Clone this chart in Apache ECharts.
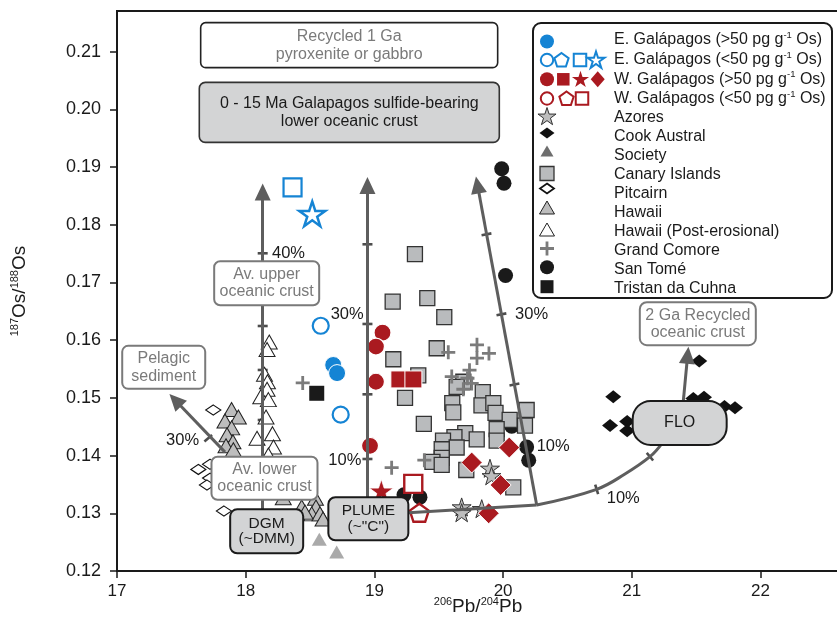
<!DOCTYPE html>
<html>
<head>
<meta charset="utf-8">
<script src="https://cdn.jsdelivr.net/npm/echarts@6/dist/echarts.min.js"></script>
<style>
  html, body { margin: 0; padding: 0; background: #ffffff; }
  #chart { width: 837px; height: 638px; }
</style>
</head>
<body>
<div id="chart"></div>
<script>
// ---------------- Data: [206Pb/204Pb, 187Os/188Os] ----------------
const xTicks = [17, 18, 19, 20, 21, 22];
const yTicks = [0.12, 0.13, 0.14, 0.15, 0.16, 0.17, 0.18, 0.19, 0.20, 0.21];

// Galápagos
const eGalHiCircle = [[18.68, 0.1557], [18.71, 0.1543]];
const eGalLoCircle = [[18.583, 0.1625], [18.738, 0.1471]];
const eGalLoSquare = [[18.364, 0.1865]];
const eGalLoStar = [[18.517, 0.1819]];
const wGalHiCircle = [[19.063, 0.1613], [19.012, 0.1589], [19.012, 0.1528], [18.966, 0.1417]];
const wGalHiSquare = [[19.194, 0.1532], [19.303, 0.1532]];
const wGalHiStar = [[19.054, 0.1339]];
const wGalHiDiamond = [[19.756, 0.1388], [20.048, 0.1414], [19.981, 0.1349], [19.888, 0.1300]];
const wGalLoSquare = [[19.302, 0.1351]];
const wGalLoPentagon = [[19.349, 0.1301]];

// Other ocean island basalts
const azores = [[19.898, 0.1378], [19.910, 0.1365], [19.678, 0.1311], [19.678, 0.1301], [19.834, 0.1308]];
const cookAustral = [[20.856, 0.1502], [20.831, 0.1452], [20.964, 0.1459], [20.964, 0.1443],
  [21.524, 0.1564], [21.478, 0.1499], [21.561, 0.1501], [21.720, 0.1485], [21.802, 0.1483]];
const society = [[18.572, 0.1255], [18.707, 0.1233]];
const canary = [[19.315, 0.1749], [19.142, 0.1667], [19.411, 0.1673], [19.543, 0.1640], [19.484, 0.1586],
  [19.147, 0.1567], [19.341, 0.1539], [19.238, 0.1500], [19.691, 0.1528], [19.639, 0.1519],
  [19.605, 0.1491], [19.613, 0.1475], [19.842, 0.1510], [19.832, 0.1487], [19.924, 0.1491],
  [19.941, 0.1474], [20.051, 0.1462], [20.183, 0.1479], [20.170, 0.1452], [19.950, 0.1446],
  [19.384, 0.1455], [19.706, 0.1439], [19.795, 0.1428], [19.622, 0.1432], [19.533, 0.1426],
  [19.639, 0.1414], [19.523, 0.1411], [19.523, 0.1396], [19.451, 0.1389], [19.523, 0.1384],
  [19.714, 0.1375], [20.079, 0.1345], [19.950, 0.1426]];
const pitcairn = [[17.748, 0.1479], [17.632, 0.1376], [17.723, 0.1385], [17.723, 0.1361], [17.699, 0.1349], [17.831, 0.1304]];
const hawaii = [[17.890, 0.1480], [17.943, 0.1467], [17.839, 0.1460], [17.891, 0.1448], [17.855, 0.1436],
  [17.901, 0.1424], [17.847, 0.1417], [17.904, 0.1410], [18.292, 0.1327], [18.435, 0.1311],
  [18.542, 0.1326], [18.546, 0.1311], [18.513, 0.1299], [18.577, 0.1299], [18.601, 0.1290], [18.461, 0.1302]];
const hawaiiPostErosional = [[18.183, 0.1597], [18.166, 0.1584], [18.146, 0.1541], [18.169, 0.1528],
  [18.166, 0.1515], [18.117, 0.1502], [18.176, 0.1497], [18.158, 0.1467], [18.088, 0.1430],
  [18.208, 0.1438], [18.216, 0.1415], [18.176, 0.1401]];
const grandComore = [[18.443, 0.1526], [19.134, 0.1379], [19.388, 0.1392], [19.574, 0.1579], [19.797, 0.1592],
  [19.890, 0.1577], [19.797, 0.1569], [19.739, 0.1548], [19.601, 0.1537], [19.723, 0.1534],
  [19.756, 0.1525], [19.691, 0.1515]];
const sanTome = [[19.989, 0.1897], [20.007, 0.1872], [20.019, 0.1712], [20.183, 0.1415], [20.199, 0.1392],
  [20.067, 0.1451], [19.230, 0.1332], [19.354, 0.1328]];
const tristan = [[18.552, 0.1508]];

// Mixing model paths (end point = arrowhead centre)
const upperCrustPath = [[18.132, 0.1280], [18.132, 0.1857]];
const plumePath = [[18.946, 0.1280], [18.946, 0.1868]];
const recycledPath = [[20.261, 0.13144], [19.801, 0.1869]];
const pelagicPath = [[17.839, 0.1406], [17.453, 0.1496]];
const twoGaPath = [[21.390, 0.1470], [21.434, 0.1574]];
const plumeBase = [[19.199, 0.1300], [20.261, 0.13144]];
const floCurve = [[20.261, 0.13144], [20.727, 0.13416], [20.947, 0.13681], [21.141, 0.13981], [21.235, 0.14213]];

// Mixing increments [x, y, tick rotation in degrees]
const mixTicks = [
  [18.132, 0.17506, 0], [18.132, 0.16246, 0], [18.132, 0.15484, 0], [18.132, 0.14617, 0],
  [18.946, 0.17662, 0], [18.946, 0.16281, 0], [18.946, 0.15062, 0], [18.946, 0.13941, 0],
  [19.871, 0.17835, 10.5], [19.987, 0.16449, 10.5], [20.088, 0.15232, 10.5],
  [20.727, 0.13416, 107], [21.141, 0.13981, 130],
  [17.709, 0.14300, 40]
];
const pctLabels = [
  ['40%', 18.204, 0.17511], ['30%', 18.660, 0.16454], ['30%', 20.093, 0.16454],
  ['10%', 18.642, 0.13924], ['10%', 20.261, 0.14154], ['10%', 20.805, 0.13260], ['30%', 17.381, 0.14270]
];

// End-member boxes
const boxLabels = [
  { lines: ['Recycled 1 Ga', 'pyroxenite or gabbro'], at: [18.804, 0.21113] },
  { lines: ['0 - 15 Ma Galapagos sulfide-bearing', 'lower oceanic crust'], at: [18.805, 0.19948] },
  { lines: ['Av. upper', 'oceanic crust'], at: [18.163, 0.16988] },
  { lines: ['Pelagic', 'sediment'], at: [17.363, 0.15529] },
  { lines: ['Av. lower', 'oceanic crust'], at: [18.146, 0.13607] },
  { lines: ['DGM', '(~DMM)'], at: [18.163, 0.12688] },
  { lines: ['PLUME', '(~"C")'], at: [18.953, 0.12906] },
  { lines: ['FLO'], at: [21.372, 0.14567] },
  { lines: ['2 Ga Recycled', 'oceanic crust'], at: [21.513, 0.16286] }
];

// ---------------- Styling ----------------
const FONT = '"Liberation Sans", Arial, sans-serif';
const INK = '#1a1a1a';
const LINE_GREY = '#5e5e5e';
const BOX_GREY = '#7a7a7a';
const BLUE = '#1584d4';
const RED = '#aa1a20';
const SQ_FILL = '#b9bbbd';

function polyPath(n, inner) {
  const pts = [];
  const count = inner ? n * 2 : n;
  for (let i = 0; i < count; i++) {
    const r = inner && i % 2 ? 100 * inner : 100;
    const a = -Math.PI / 2 + i * 2 * Math.PI / count;
    pts.push((100 + r * Math.cos(a)).toFixed(2) + ',' + (100 + r * Math.sin(a)).toFixed(2));
  }
  return 'path://M' + pts.join('L') + 'Z';
}
const STAR = polyPath(5, 0.382);
const PENT = polyPath(5, 0);
const CROSS = 'path://M8,0H12V20H8Z M0,8H20V12H0Z';

function pts(data, symbol, size, itemStyle) {
  return {
    type: 'scatter', data: data, symbol: symbol, symbolSize: size, symbolKeepAspect: true,
    itemStyle: Object.assign({ opacity: 1 }, itemStyle), silent: true, animation: false,
    emphasis: { disabled: true }
  };
}

const arrowLine = (path, curve) => [
  { coord: path[0], lineStyle: { curveness: curve || 0 } },
  { coord: path[1], lineStyle: { curveness: curve || 0 } }
];

const chart = echarts.init(document.getElementById('chart'));

const option = {
  backgroundColor: '#ffffff',
  animation: false,
  grid: {
    left: 117, top: 11, width: 725, height: 560,
    show: true, borderColor: INK, borderWidth: 2, backgroundColor: 'transparent',
    containLabel: false, outerBoundsMode: 'none'
  },
  xAxis: {
    type: 'value', min: 17, max: 22.6333,
    axisLine: { show: true, onZero: false, lineStyle: { color: INK, width: 2 } },
    axisTick: { show: true, length: 7, customValues: xTicks, lineStyle: { color: INK, width: 1.5 } },
    axisLabel: { customValues: xTicks, fontSize: 17, fontFamily: FONT, color: INK, margin: 12 },
    splitLine: { show: false }
  },
  yAxis: {
    type: 'value', min: 0.12, max: 0.21705,
    axisLine: { show: true, onZero: false, lineStyle: { color: INK, width: 2 } },
    axisTick: { show: true, length: 7, customValues: yTicks, lineStyle: { color: INK, width: 1.5 } },
    axisLabel: { customValues: yTicks, fontSize: 18, fontFamily: FONT, color: INK, margin: 16,
      formatter: v => v.toFixed(2) },
    splitLine: { show: false }
  },
  series: [
    // model arrows
    {
      type: 'scatter', data: [], silent: true, animation: false,
      markLine: {
        silent: true, animation: false, symbol: ['none', 'triangle'], symbolSize: [16, 17],
        label: { show: false }, emphasis: { disabled: true },
        lineStyle: { color: LINE_GREY, width: 3, type: 'solid', opacity: 1 },
        itemStyle: { color: LINE_GREY },
        data: [
          arrowLine(upperCrustPath), arrowLine(plumePath), arrowLine(recycledPath),
          arrowLine(pelagicPath, 0.2), arrowLine(twoGaPath, 0.08)
        ]
      }
    },
    { type: 'line', data: plumeBase, symbol: 'none', silent: true, animation: false,
      lineStyle: { color: LINE_GREY, width: 3 } },
    { type: 'line', data: floCurve, symbol: 'none', smooth: 0.4, silent: true, animation: false,
      lineStyle: { color: LINE_GREY, width: 3 } },
    {
      type: 'scatter', silent: true, animation: false, symbol: 'rect',
      data: mixTicks.map(t => ({ value: [t[0], t[1]], symbolRotate: t[2] })),
      symbolSize: [10, 2.6], itemStyle: { color: '#4d4d4d', opacity: 1 }
    },
    // data points
    pts(hawaiiPostErosional, 'triangle', [16, 14], { color: '#ffffff', borderColor: '#222', borderWidth: 1 }),
    pts(hawaii, 'triangle', [16, 14], { color: '#bdbdbd', borderColor: '#222', borderWidth: 1 }),
    pts(pitcairn, 'diamond', [15, 10], { color: '#ffffff', borderColor: '#111', borderWidth: 1.2 }),
    pts(society, 'triangle', [15, 13], { color: '#aaaaaa' }),
    pts(sanTome, 'circle', 15, { color: INK }),
    pts(canary, 'rect', 15, { color: SQ_FILL, borderColor: '#333', borderWidth: 1.3 }),
    pts(grandComore, CROSS, 14, { color: '#7b7b7b' }),
    pts(tristan, 'rect', 15, { color: INK }),
    pts(cookAustral, 'diamond', [16, 13], { color: '#111111' }),
    pts(azores, STAR, 19, { color: '#bdbdbd', borderColor: '#333', borderWidth: 1 }),
    pts(eGalHiCircle, 'circle', 17, { color: BLUE, borderColor: '#fff', borderWidth: 1 }),
    pts(eGalLoCircle, 'circle', 16, { color: '#fff', borderColor: BLUE, borderWidth: 2.2 }),
    pts(eGalLoSquare, 'rect', 18, { color: '#fff', borderColor: BLUE, borderWidth: 2.2 }),
    pts(eGalLoStar, STAR, 26, { color: '#fff', borderColor: BLUE, borderWidth: 2.5 }),
    pts(wGalHiCircle, 'circle', 17, { color: RED, borderColor: '#fff', borderWidth: 1.2 }),
    pts(wGalHiSquare, 'rect', 17, { color: RED, borderColor: '#fff', borderWidth: 1 }),
    pts(wGalHiStar, STAR, 24, { color: RED, borderColor: '#fff', borderWidth: 0.8 }),
    pts(wGalHiDiamond, 'diamond', 21, { color: RED, borderColor: '#fff', borderWidth: 1 }),
    pts(wGalLoSquare, 'rect', 18, { color: '#fff', borderColor: RED, borderWidth: 2.4 }),
    pts(wGalLoPentagon, PENT, 19, { color: '#fff', borderColor: RED, borderWidth: 2.4 })
  ]
};
chart.setOption(option);

// ---------------- Annotations ----------------
const toPx = c => chart.convertToPixel({ gridIndex: 0 }, c);
const g = [];

// box styles keyed by label
const boxStyle = {
  'Recycled 1 Ga': { w: 297, h: 45, r: 5, fill: '#fff', stroke: '#222', lw: 1.6, text: '#7a7a7a', fs: 16, lh: 18 },
  '0 - 15 Ma Galapagos sulfide-bearing': { w: 300, h: 60, r: 6, fill: '#d3d4d5', stroke: '#333', lw: 1.6, text: INK, fs: 16, lh: 18 },
  'Av. upper': { w: 105, h: 44, r: 6, fill: '#fff', stroke: BOX_GREY, lw: 2, text: BOX_GREY, fs: 16, lh: 17.5 },
  'Pelagic': { w: 83, h: 43, r: 6, fill: '#fff', stroke: BOX_GREY, lw: 2, text: BOX_GREY, fs: 16, lh: 17.5 },
  'Av. lower': { w: 106, h: 43, r: 6, fill: '#fff', stroke: BOX_GREY, lw: 2, text: BOX_GREY, fs: 16, lh: 17.5 },
  'DGM': { w: 73, h: 44, r: 7, fill: '#d3d4d5', stroke: INK, lw: 2, text: INK, fs: 15.5, lh: 15.5 },
  'PLUME': { w: 80, h: 43, r: 7, fill: '#d3d4d5', stroke: INK, lw: 2, text: INK, fs: 15.5, lh: 15.5 },
  'FLO': { w: 94, h: 44, r: 18, fill: '#d3d4d5', stroke: INK, lw: 2, text: INK, fs: 16, lh: 16 },
  '2 Ga Recycled': { w: 116, h: 43, r: 7, fill: '#fff', stroke: BOX_GREY, lw: 2, text: BOX_GREY, fs: 16, lh: 17 }
};
boxLabels.forEach(b => {
  const s = boxStyle[b.lines[0]];
  const p = toPx(b.at);
  g.push({ type: 'rect', z: 100, silent: true,
    shape: { x: p[0] - s.w / 2, y: p[1] - s.h / 2, width: s.w, height: s.h, r: s.r },
    style: { fill: s.fill, stroke: s.stroke, lineWidth: s.lw } });
  g.push({ type: 'text', z: 101, silent: true, x: p[0], y: p[1],
    style: { text: b.lines.join('\n'), fill: s.text, fontSize: s.fs, fontFamily: FONT,
      lineHeight: s.lh, align: 'center', verticalAlign: 'middle' } });
});

pctLabels.forEach(l => {
  const p = toPx([l[1], l[2]]);
  g.push({ type: 'text', z: 90, silent: true, x: p[0], y: p[1],
    style: { text: l[0], fill: INK, fontSize: 16.5, fontFamily: FONT, align: 'left', verticalAlign: 'middle' } });
});

// axis titles
const supRich = { s: { fontSize: 11, fontFamily: FONT, fill: INK, verticalAlign: 'top', lineHeight: 10 } };
g.push({ type: 'text', silent: true, x: 20, y: 291, rotation: Math.PI / 2,
  style: { text: '{s|187}Os/{s|188}Os', fill: INK, fontSize: 19, fontFamily: FONT, lineHeight: 21,
    align: 'center', verticalAlign: 'middle', rich: supRich } });
g.push({ type: 'text', silent: true, x: 478, y: 607,
  style: { text: '{s|206}Pb/{s|204}Pb', fill: INK, fontSize: 19, fontFamily: FONT, lineHeight: 21,
    align: 'center', verticalAlign: 'middle', rich: supRich } });

// legend
g.push({ type: 'rect', z: 110, silent: true,
  shape: { x: 533, y: 23, width: 299, height: 275, r: 8 },
  style: { fill: '#fff', stroke: INK, lineWidth: 2 } });

function polyPts(n, inner, cx, cy, R) {
  const out = [];
  const count = inner ? n * 2 : n;
  for (let i = 0; i < count; i++) {
    const r = inner && i % 2 ? R * inner : R;
    const a = -Math.PI / 2 + i * 2 * Math.PI / count;
    out.push([cx + r * Math.cos(a), cy + r * Math.sin(a)]);
  }
  return out;
}
function mark(kind, x, y, fill, stroke, lw, a, b) {
  const style = { fill: fill, stroke: stroke || null, lineWidth: lw || 0 };
  const base = { z: 111, silent: true, style: style };
  switch (kind) {
    case 'dot': return Object.assign(base, { type: 'circle', shape: { cx: x, cy: y, r: a } });
    case 'sq': return Object.assign(base, { type: 'rect', shape: { x: x - a / 2, y: y - a / 2, width: a, height: a } });
    case 'star': return Object.assign(base, { type: 'polygon', shape: { points: polyPts(5, 0.382, x, y, a) } });
    case 'pent': return Object.assign(base, { type: 'polygon', shape: { points: polyPts(5, 0, x, y, a) } });
    case 'dia': return Object.assign(base, { type: 'polygon', shape: { points: [[x, y - b / 2], [x + a / 2, y], [x, y + b / 2], [x - a / 2, y]] } });
    case 'tri': return Object.assign(base, { type: 'polygon', shape: { points: [[x, y - b / 2], [x + a / 2, y + b / 2], [x - a / 2, y + b / 2]] } });
    case 'cross': return Object.assign(base, { type: 'polygon', shape: { points: [
      [x - 1.4, y - a / 2], [x + 1.4, y - a / 2], [x + 1.4, y - 1.4], [x + a / 2, y - 1.4], [x + a / 2, y + 1.4],
      [x + 1.4, y + 1.4], [x + 1.4, y + a / 2], [x - 1.4, y + a / 2], [x - 1.4, y + 1.4], [x - a / 2, y + 1.4],
      [x - a / 2, y - 1.4], [x - 1.4, y - 1.4]] } });
  }
}

const legendRows = [
  { text: 'E. Galápagos (>50 pg g{s|-1} Os)', y: 40, marks: [['dot', 547, 41.5, BLUE, null, 0, 7]] },
  { text: 'E. Galápagos (<50 pg g{s|-1} Os)', y: 59.5, marks: [
    ['dot', 547, 60, '#fff', BLUE, 2, 6.2], ['pent', 561.5, 60.5, '#fff', BLUE, 2, 7.5],
    ['sq', 580, 60, '#fff', BLUE, 2, 12.5], ['star', 596, 60.5, '#fff', BLUE, 2, 9]] },
  { text: 'W. Galápagos (>50 pg g{s|-1} Os)', y: 79.3, marks: [
    ['dot', 547, 79.3, RED, null, 0, 7], ['sq', 563.3, 79.3, RED, null, 0, 12.5],
    ['star', 580.5, 79.8, RED, null, 0, 9], ['dia', 597.7, 79.3, RED, null, 0, 14, 16]] },
  { text: 'W. Galápagos (<50 pg g{s|-1} Os)', y: 99, marks: [
    ['dot', 547, 98.5, '#fff', RED, 2, 6.2], ['pent', 566.5, 99, '#fff', RED, 2, 7.5],
    ['sq', 582, 98.5, '#fff', RED, 2, 12.5]] },
  { text: 'Azores', y: 117.7, marks: [['star', 547, 117, '#bdbdbd', '#333', 1, 9.5]] },
  { text: 'Cook Austral', y: 136.7, marks: [['dia', 547, 133, '#111', null, 0, 15, 11]] },
  { text: 'Society', y: 156, marks: [['tri', 547, 151, '#6e6e6e', null, 0, 13, 11]] },
  { text: 'Canary Islands', y: 175, marks: [['sq', 547, 173.5, SQ_FILL, '#333', 1.3, 14]] },
  { text: 'Pitcairn', y: 194, marks: [['dia', 547, 188.5, '#fff', '#111', 1.8, 14, 10]] },
  { text: 'Hawaii', y: 212.7, marks: [['tri', 547, 207.5, '#bdbdbd', '#222', 1, 15, 13]] },
  { text: 'Hawaii (Post-erosional)', y: 231.3, marks: [['tri', 547, 229.5, '#fff', '#222', 1, 15, 13]] },
  { text: 'Grand Comore', y: 250.7, marks: [['cross', 547, 248.5, '#7b7b7b', null, 0, 14]] },
  { text: 'San Tomé', y: 269.3, marks: [['dot', 547, 267.3, INK, null, 0, 7]] },
  { text: 'Tristan da Cuhna', y: 288.3, marks: [['sq', 547, 286.7, INK, null, 0, 13]] }
];
legendRows.forEach(row => {
  row.marks.forEach(m => g.push(mark.apply(null, m)));
  g.push({ type: 'text', z: 111, silent: true, x: 614, y: row.y,
    style: { text: row.text, fill: INK, fontSize: 16, fontFamily: FONT, lineHeight: 19,
      align: 'left', verticalAlign: 'middle',
      rich: { s: { fontSize: 9.5, fontFamily: FONT, fill: INK, verticalAlign: 'top', lineHeight: 9 } } } });
});

chart.setOption({ graphic: { elements: g } });
</script>
</body>
</html>
